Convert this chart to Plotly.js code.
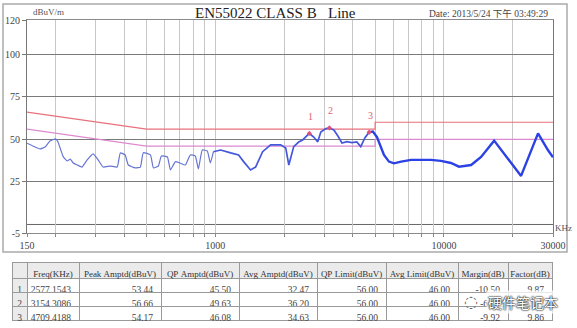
<!DOCTYPE html>
<html>
<head>
<meta charset="utf-8">
<script src="https://cdn.plot.ly/plotly-3.0.1.min.js"></script>
<style>html,body{margin:0;padding:0;background:#fff;}#chart{width:577px;height:328px;}</style>
</head>
<body>
<div id="chart"></div>
<script>
// ---- data ----
const freqKHz = [150,159,171,180,189,200,205,216,225,232,239,249,261,275,292,307,323,347,372,384,403,416,447,470,484,520,536,563,581,617,636,669,700,739,777,817,843,877,922,951,981,1054,1167,1264,1329,1426,1500,1610,1746,1932,2032,2096,2202,2315,2409,2535,2577,2694,2805,2893,3043,3154,3300,3437,3580,3765,3956,4156,4328,4507,4709,4890,5094,5306,5466,5748,6045,6497,7183,7940,8777,9704,10730,11640,12510,13150,14540,16580,21750,25800,28500,30000];
const ampDb = [47.7,46.1,44.3,45.5,49,50.2,48.4,39.8,37.3,38.4,36.1,34.9,33.7,37.9,41.4,37.9,33.7,34.3,33.7,42,40.8,34.9,33.2,33.7,42.1,40.8,33.2,34.3,40.2,39.6,32,36.9,36.1,34.9,40.8,40.2,32.6,43.7,43.1,36.1,42.7,43.7,42,40.8,36.9,32,33.7,42.7,46.7,46.7,44.9,34.9,45.7,48.4,49.6,52.5,53.4,51.3,48.5,54.3,56.3,56.6,55.5,51.9,47.8,48.6,48.1,48.4,45.7,50.8,54.2,54.5,51.3,45.5,40.8,36.9,35.9,36.9,37.9,37.9,37.9,37.3,36.1,33.9,34.3,34.9,39.6,49.2,28.5,53.5,43.7,39.4];

const limitFreq = [150, 500, 5000, 5000, 30000];
const qpLimit   = [66, 56, 56, 60, 60];
const avgLimit  = [56, 46, 46, 50, 50];

const pkIndex = ['1','2','3'];
const pkFreq  = [2577.1543, 3154.3086, 4709.4188];
const pkPeak  = [53.44, 56.66, 54.17];
const pkQP    = [45.50, 49.63, 46.08];
const pkAvg   = [32.47, 36.20, 34.63];
const pkQPLim = [56.00, 56.00, 56.00];
const pkAvgLim= [46.00, 46.00, 46.00];
const pkMargin= [-10.50, -6.37, -9.92];
const pkFactor= [9.87, 9.87, 9.86];

const headerLabels = ['', 'Freq(KHz)', 'Peak Amptd(dBuV)', 'QP Amptd(dBuV)', 'Avg Amptd(dBuV)', 'QP Limit(dBuV)', 'Avg Limit(dBuV)', 'Margin(dB)', 'Factor(dB)'];

const xGridVals = [150,200,300,400,500,600,700,800,900,1000,2000,3000,4000,5000,6000,7000,8000,9000,10000,20000,30000];
const xLabelVals = [150, 1000, 10000, 30000];
const yTickVals = [-5, 25, 50, 75, 100, 120];

// ---- build ----
const W = 577, H = 328;
const px = v => v / W, py = v => 1 - v / H;
const serif = 'Liberation Serif, Times New Roman, serif';
const nb = s => s.replace(/ /g, '\u00a0');

const seg = (a, b) => ({x: freqKHz.slice(a, b + 1), y: ampDb.slice(a, b + 1)});
const sLow = seg(0, 40), sMid = seg(40, 70), sHigh = seg(70, freqKHz.length - 1);

const traces = [
  {x: limitFreq, y: qpLimit, type: 'scatter', mode: 'lines', line: {color: '#e8707c', width: 1.2}, hoverinfo: 'skip'},
  {x: limitFreq, y: avgLimit, type: 'scatter', mode: 'lines', line: {color: '#dc8ad0', width: 1.2}, hoverinfo: 'skip'},
  {x: sLow.x, y: sLow.y, type: 'scatter', mode: 'lines', line: {color: '#6675d4', width: 1.2, shape: 'spline', smoothing: 0.4}},
  {x: sMid.x, y: sMid.y, type: 'scatter', mode: 'lines', line: {color: '#4558dc', width: 1.7}},
  {x: sHigh.x, y: sHigh.y, type: 'scatter', mode: 'lines', line: {color: '#2c42e4', width: 2.4}},
  {x: pkFreq, y: pkPeak, type: 'scatter', mode: 'markers', marker: {symbol: 'diamond', size: 4, color: '#e0507a'}},
  {
    type: 'table',
    domain: {x: [px(12), px(552)], y: [py(326), py(262)]},
    columnwidth: [15, 52, 82, 78, 78, 69, 72, 50, 44],
    header: {
      values: headerLabels.map(nb),
      height: 16,
      align: 'center',
      fill: {color: '#ebebeb'},
      line: {color: '#9a9a9a', width: 1},
      font: {family: serif, size: 9, color: '#333'}
    },
    cells: {
      values: [
        pkIndex,
        pkFreq.map(v => v.toFixed(4)),
        pkPeak.map(v => v.toFixed(2)),
        pkQP.map(v => v.toFixed(2)),
        pkAvg.map(v => v.toFixed(2)),
        pkQPLim.map(v => v.toFixed(2)),
        pkAvgLim.map(v => v.toFixed(2)),
        pkMargin.map(v => v.toFixed(2)),
        pkFactor.map(v => v.toFixed(2))
      ],
      height: 14,
      align: ['center', 'right', 'right', 'right', 'right', 'right', 'right', 'right', 'right'],
      fill: {color: [['#ebebeb','#ebebeb','#ebebeb'], '#fff', '#fff', '#fff', '#fff', '#fff', '#fff', '#fff', '#fff']},
      line: {color: '#9a9a9a', width: 1},
      font: {family: serif, size: 9.5, color: '#444'}
    }
  }
];

const A = (text, x, y, font, extra) => Object.assign({text, xref: 'paper', yref: 'paper', x: px(x), y: py(y),
  xanchor: 'center', yanchor: 'middle', showarrow: false, font}, extra || {});

const annotations = [
  A('dBuV/m', 48.5, 12.5, {family: serif, size: 9, color: '#555'}),
  A('EN55022 CLASS B', 255.5, 13, {family: serif, size: 15, color: '#222'}),
  A('Line', 342, 13, {family: serif, size: 15, color: '#222'}),
  A('Date: 2013/5/24 下午 03:49:29', 488, 13.5, {family: serif + ', Noto Sans CJK SC', size: 9.5, color: '#444'}),
  A('KHz', 563, 228, {family: serif, size: 9, color: '#555'}),
  A('硬件笔记本', 523, 302, {family: 'Noto Sans CJK SC', size: 14, color: '#ffffff', shadow: '0 0 1.5px #222, 0 0 1.5px #222, 0 0 1.5px #222'},
    {bgcolor: 'rgba(255,255,255,0.75)'}),
  A('◌', 471, 301, {family: 'DejaVu Sans', size: 16, color: '#666'})
];
pkIndex.forEach((lab, i) => {
  annotations.push({text: lab, x: Math.log10(pkFreq[i]), y: pkPeak[i], xref: 'x', yref: 'y', xshift: 1.5, yshift: 17,
    xanchor: 'center', yanchor: 'middle', showarrow: false, font: {family: serif, size: 10, color: '#e06070'}});
});

const shapes = [
  {type: 'line', xref: 'x domain', yref: 'y', x0: 0, x1: 1, y0: 0, y1: 0, line: {color: '#666', width: 1}, layer: 'below'},
  {type: 'line', xref: 'x', yref: 'y domain', x0: 3, x1: 3, y0: 0, y1: 1, line: {color: '#6a6a6a', width: 1.2}, layer: 'below'},
  {type: 'line', xref: 'x', yref: 'y domain', x0: 4, x1: 4, y0: 0, y1: 1, line: {color: '#6a6a6a', width: 1.2}, layer: 'below'},
  {type: 'rect', xref: 'paper', yref: 'paper', x0: px(3), x1: px(567), y0: py(252), y1: py(4), line: {color: '#aaa', width: 1.5}, fillcolor: 'rgba(0,0,0,0)'}
];

const layout = {
  width: W, height: H,
  margin: {l: 0, r: 0, t: 0, b: 0},
  paper_bgcolor: '#fff', plot_bgcolor: '#fff',
  showlegend: false,
  xaxis: {
    type: 'log', range: [Math.log10(150), Math.log10(30000)], domain: [px(27), px(553)],
    tickvals: xGridVals, ticktext: xGridVals.map(v => xLabelVals.includes(v) ? String(v) : ''),
    showgrid: true, gridcolor: '#c8c8c8', gridwidth: 1,
    ticks: 'outside', ticklen: 3, tickcolor: '#888',
    tickfont: {family: serif, size: 10, color: '#444'},
    showline: true, linecolor: '#8a8a8a', mirror: true, zeroline: false, anchor: 'y'
  },
  yaxis: {
    range: [-5, 120], domain: [py(233), py(20)],
    tickvals: yTickVals, ticktext: yTickVals.map(String),
    showgrid: true, gridcolor: '#7a7a7a', gridwidth: 1,
    ticks: 'outside', ticklen: 4, tickcolor: '#777',
    tickfont: {family: serif, size: 10, color: '#444'},
    showline: true, linecolor: '#777', mirror: true, zeroline: false, anchor: 'x'
  },
  annotations: annotations,
  shapes: shapes
};

Plotly.newPlot('chart', traces, layout, {staticPlot: true, displayModeBar: false});
</script>
</body>
</html>
